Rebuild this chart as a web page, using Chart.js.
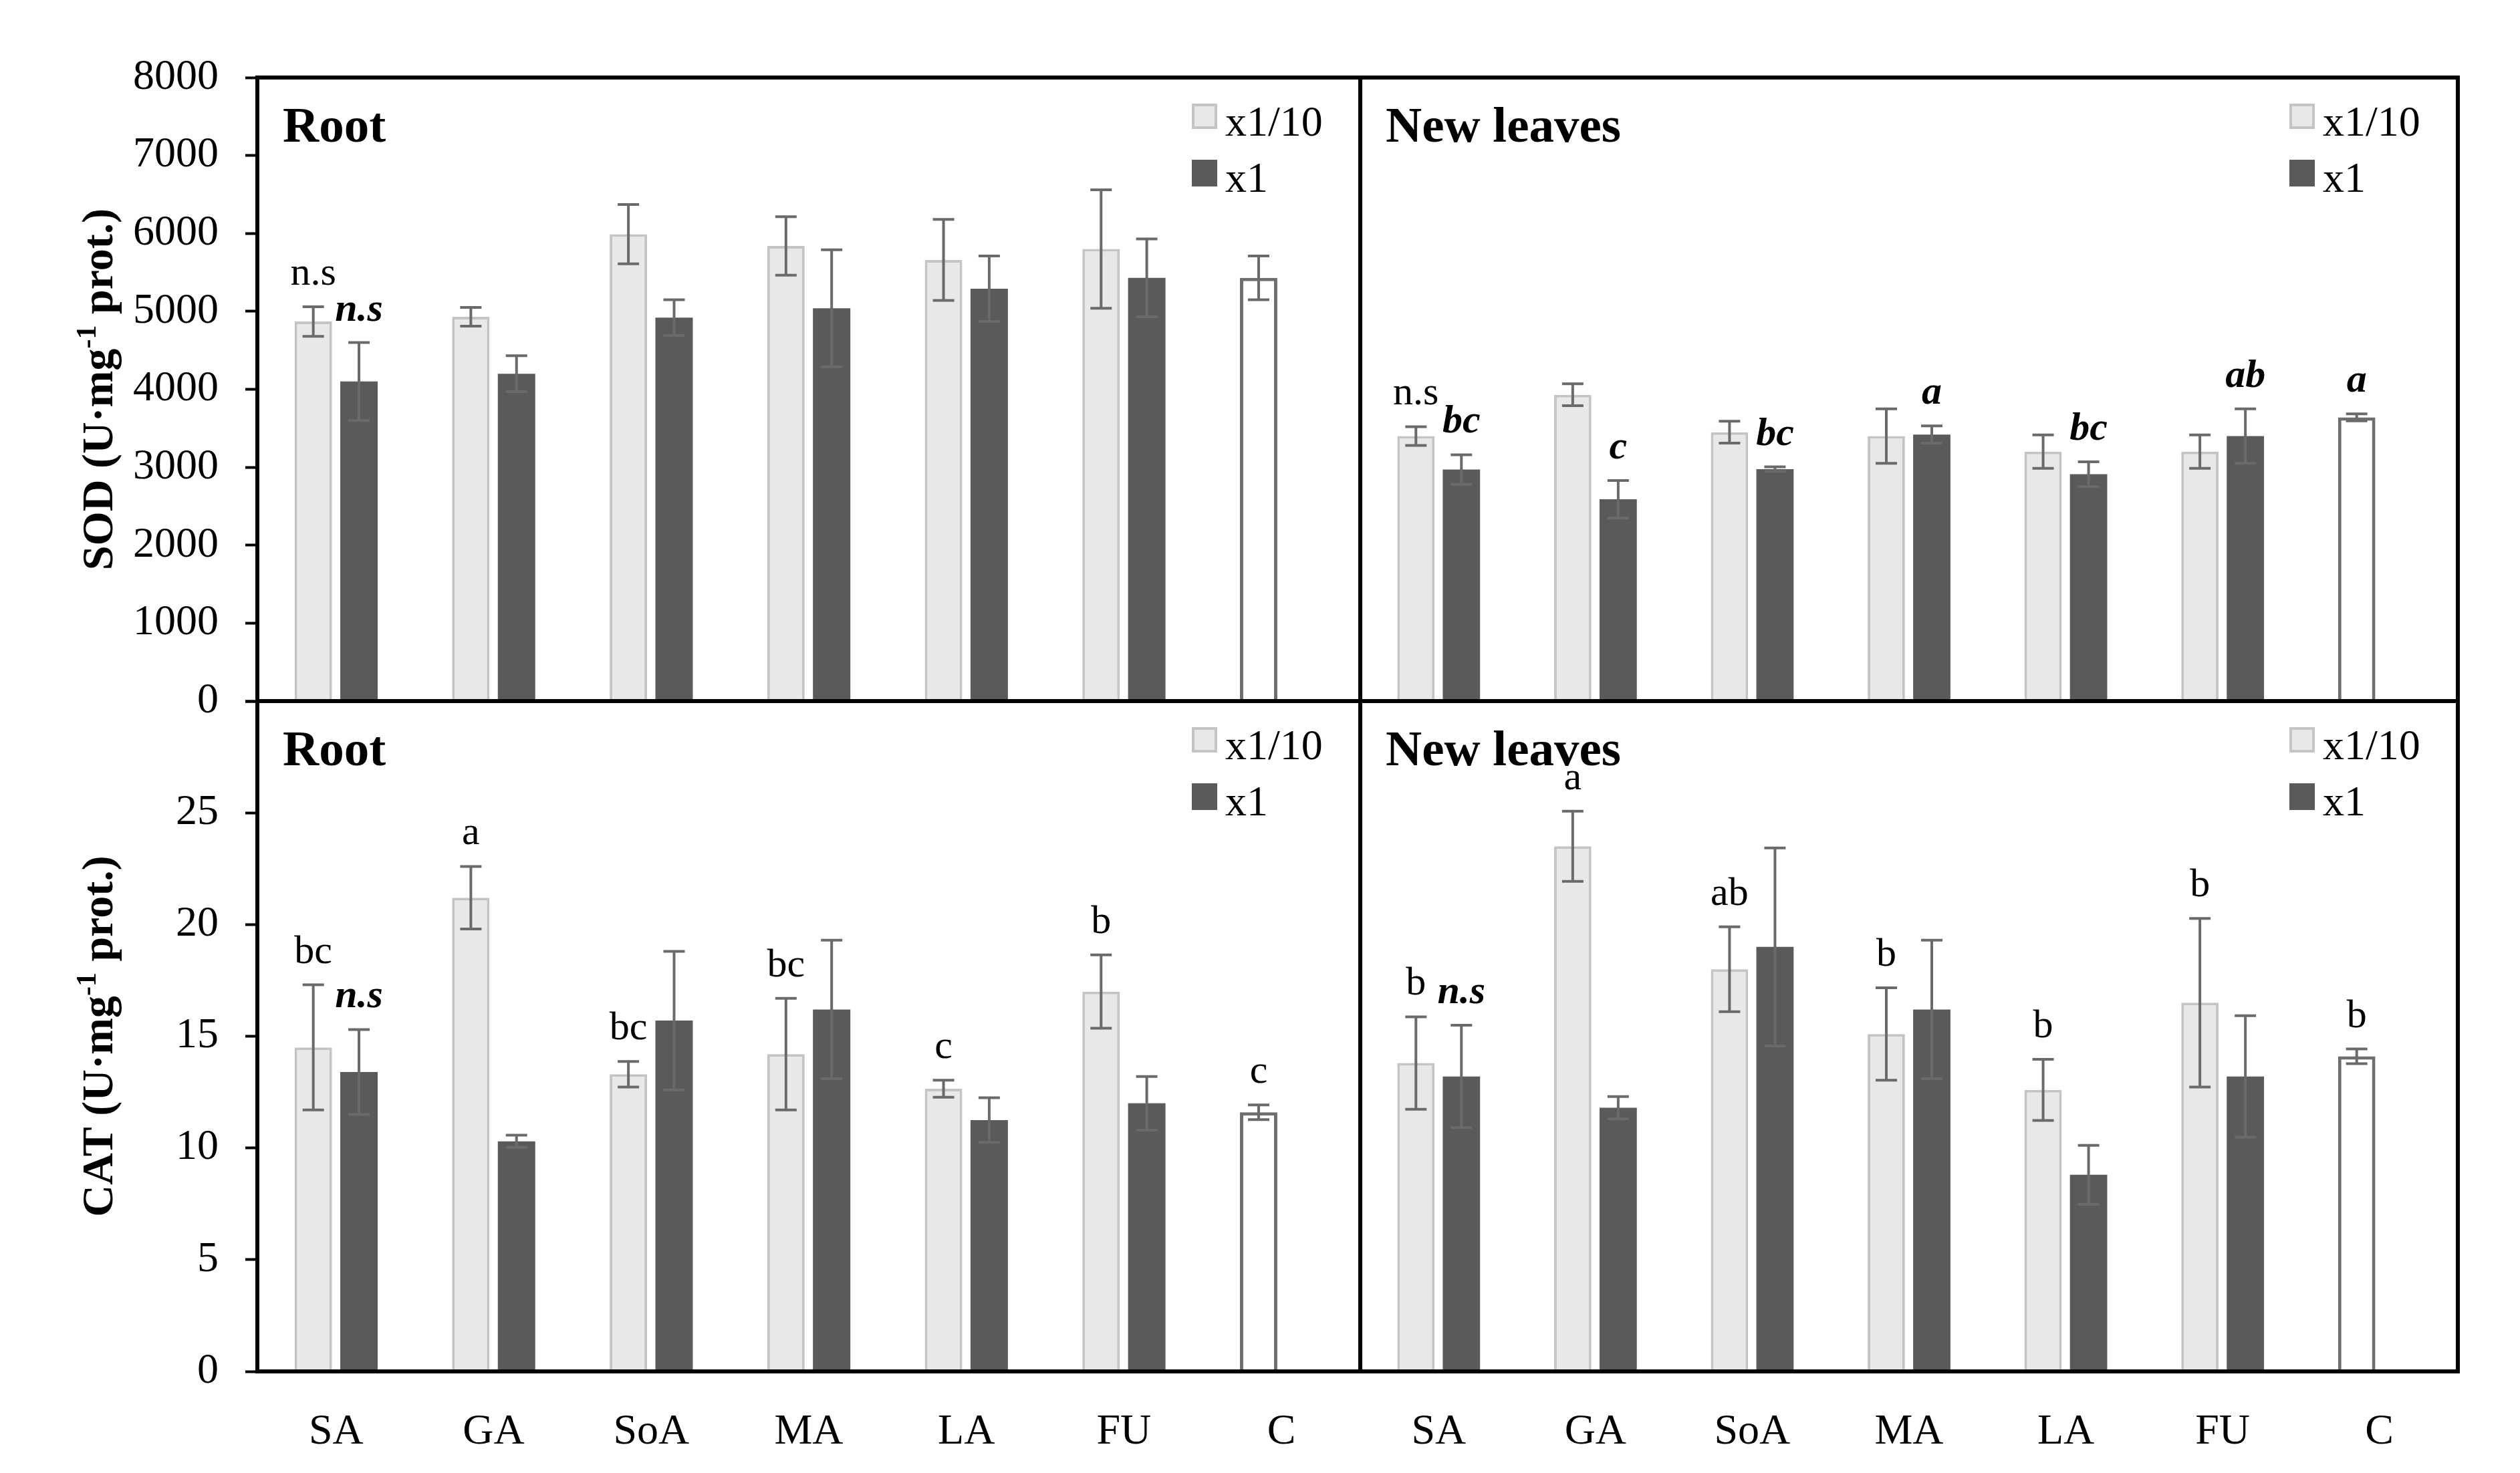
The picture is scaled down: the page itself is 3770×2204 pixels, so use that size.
<!DOCTYPE html>
<html>
<head>
<meta charset="utf-8">
<script src="https://cdn.jsdelivr.net/npm/chart.js@4.4.1/dist/chart.umd.min.js"></script>
<style>
  html, body { margin: 0; padding: 0; background: #fff; }
  #wrap { position: relative; width: 3770px; height: 2204px; }
  #wrap canvas { position: absolute; left: 0; top: 0; }
</style>
</head>
<body>
<div id="wrap">
  <canvas id="sodRoot" width="3770" height="2204"></canvas>
  <canvas id="sodLeaf" width="3770" height="2204"></canvas>
  <canvas id="catRoot" width="3770" height="2204"></canvas>
  <canvas id="catLeaf" width="3770" height="2204"></canvas>
</div>
<script>
const groups = ["SA", "GA", "SoA", "MA", "LA", "FU", "C"];

// SOD - root
const sodRootLow = [4870, 4930, 5990, 5840, 5660, 5800, null];
const sodRootLowErr = [190, 120, 380, 375, 520, 760, null];
const sodRootHigh = [4100, 4200, 4920, 5040, 5290, 5430, null];
const sodRootHighErr = [500, 230, 230, 750, 420, 500, null];
const sodRootCtrl = [null, null, null, null, null, null, 5430];
const sodRootCtrlErr = [null, null, null, null, null, null, 280];
const sodRootLowSig = ["n.s", "", "", "", "", "", ""];
const sodRootHighSig = ["n.s", "", "", "", "", "", ""];

// SOD - new leaves
const sodLeafLow = [3400, 3930, 3450, 3400, 3200, 3200, null];
const sodLeafLowErr = [120, 140, 140, 350, 215, 215, null];
const sodLeafHigh = [2970, 2590, 2975, 3420, 2910, 3400, null];
const sodLeafHighErr = [190, 240, 30, 110, 160, 350, null];
const sodLeafCtrl = [null, null, null, null, null, null, 3640];
const sodLeafCtrlErr = [null, null, null, null, null, null, 45];
const sodLeafLowSig = ["n.s", "", "", "", "", "", ""];
const sodLeafHighSig = ["bc", "c", "bc", "a", "bc", "ab", "a"];

// CAT - root
const catRootLow = [14.5, 21.2, 13.3, 14.2, 12.65, 17.0, null];
const catRootLowErr = [2.8, 1.4, 0.57, 2.5, 0.38, 1.64, null];
const catRootHigh = [13.4, 10.3, 15.7, 16.2, 11.25, 12.0, null];
const catRootHighErr = [1.9, 0.27, 3.1, 3.1, 1.0, 1.2, null];
const catRootCtrl = [null, null, null, null, null, null, 11.6];
const catRootCtrlErr = [null, null, null, null, null, null, 0.33];
const catRootLowSig = ["bc", "a", "bc", "bc", "c", "b", "c"];
const catRootHighSig = ["n.s", "", "", "", "", "", ""];

// CAT - new leaves
const catLeafLow = [13.8, 23.5, 18.0, 15.1, 12.6, 16.5, null];
const catLeafLowErr = [2.07, 1.57, 1.9, 2.07, 1.37, 3.77, null];
const catLeafHigh = [13.2, 11.8, 19.0, 16.2, 8.8, 13.2, null];
const catLeafHighErr = [2.29, 0.5, 4.43, 3.1, 1.32, 2.72, null];
const catLeafCtrl = [null, null, null, null, null, null, 14.1];
const catLeafCtrlErr = [null, null, null, null, null, null, 0.33];
const catLeafLowSig = ["b", "a", "ab", "b", "b", "b", "b"];
const catLeafHighSig = ["n.s", "", "", "", "", "", ""];

const FONT = '"Liberation Serif", "Times New Roman", serif';
const LIGHT = "#e8e8e8";
const LIGHT_EDGE = "#c4c4c4";
const DARK = "#5a5a5a";
const CTRL_EDGE = "#6e6e6e";
const ERR_COLOR = "#6a6a6a";

// panel edges in page pixels
const X_LEFT = 385, X_MID = 2035, X_RIGHT = 3677;
const Y_TOP = 116, Y_MID = 1049, Y_BOT = 2052;
const W = 3770, H = 2204;

const panelPlugin = {
  id: "panel",
  afterDatasetsDraw(chart) {
    const ctx = chart.ctx;
    const y = chart.scales.y;
    ctx.save();
    ctx.strokeStyle = ERR_COLOR;
    ctx.lineWidth = 4;
    chart.data.datasets.forEach((ds, d) => {
      const bars = chart.getDatasetMeta(d).data;
      ds.data.forEach((v, i) => {
        if (v == null || ds.err[i] == null) return;
        const x = bars[i].x;
        const top = y.getPixelForValue(v + ds.err[i]);
        const bot = y.getPixelForValue(v - ds.err[i]);
        ctx.beginPath();
        ctx.moveTo(x, top); ctx.lineTo(x, bot);
        ctx.moveTo(x - 16, top); ctx.lineTo(x + 16, top);
        ctx.moveTo(x - 16, bot); ctx.lineTo(x + 16, bot);
        ctx.stroke();
      });
    });
    ctx.restore();
  },
  afterDraw(chart, args, opts) {
    const ctx = chart.ctx;
    const ca = chart.chartArea;
    const y = chart.scales.y;
    const sets = chart.data.datasets;
    ctx.save();

    // frame
    ctx.strokeStyle = "#000";
    ctx.lineWidth = 6;
    ctx.strokeRect(ca.left, ca.top, ca.right - ca.left, ca.bottom - ca.top);

    // significance letters (index 6 points at the control bar)
    ctx.fillStyle = "#000";
    ctx.textAlign = "center";
    ctx.textBaseline = "alphabetic";
    [0, 1].forEach(d => {
      ctx.font = (d === 0 ? "" : "italic bold ") + "60px " + FONT;
      sets[d].sig.forEach((s, i) => {
        if (!s) return;
        let k = d;
        if (sets[d].data[i] == null) k = 2;
        const bar = chart.getDatasetMeta(k).data[i];
        const v = sets[k].data[i] + (sets[k].err[i] || 0);
        ctx.fillText(s, bar.x, y.getPixelForValue(v) - 33);
      });
    });

    // panel title
    ctx.textAlign = "left";
    ctx.font = "bold 75px " + FONT;
    ctx.fillText(opts.title, ca.left + 38, ca.top + 96);

    // legend
    const lx = ca.right - 252;
    ctx.font = "64px " + FONT;
    ctx.fillStyle = LIGHT;
    ctx.fillRect(lx, ca.top + 39, 38, 38);
    ctx.strokeStyle = LIGHT_EDGE;
    ctx.lineWidth = 4;
    ctx.strokeRect(lx + 2, ca.top + 41, 34, 34);
    ctx.fillStyle = DARK;
    ctx.fillRect(lx, ca.top + 123, 38, 40);
    ctx.fillStyle = "#000";
    ctx.fillText(sets[0].label, lx + 50, ca.top + 87);
    ctx.fillText(sets[1].label, lx + 50, ca.top + 171);

    // y axis title
    if (opts.yTitle) {
      const main = "bold 66px " + FONT, sup = "bold 42px " + FONT;
      const parts = [[opts.yTitle + " (U\u00b7mg", main, 0], ["-1", sup, -25], [" prot.)", main, 0]];
      let total = 0;
      parts.forEach(p => { ctx.font = p[1]; total += ctx.measureText(p[0]).width; });
      ctx.translate(168, (ca.top + ca.bottom) / 2);
      ctx.rotate(-Math.PI / 2);
      let px = -total / 2;
      parts.forEach(p => {
        ctx.font = p[1];
        ctx.fillText(p[0], px, p[2]);
        px += ctx.measureText(p[0]).width;
      });
    }
    ctx.restore();
  }
};

function makeChart(id, p) {
  const left = p.col === 0;
  const bottom = p.row === 1;
  return new Chart(document.getElementById(id), {
    type: "bar",
    data: {
      labels: groups,
      datasets: [
        { label: "x1/10", data: p.low, err: p.lowErr, sig: p.lowSig, stack: "a",
          backgroundColor: LIGHT, borderColor: LIGHT_EDGE, borderWidth: 4 },
        { label: "x1", data: p.high, err: p.highErr, sig: p.highSig, stack: "b",
          backgroundColor: DARK, borderColor: DARK, borderWidth: 0 },
        { label: "C", data: p.ctrl, err: p.ctrlErr, stack: "a",
          backgroundColor: "#ffffff", borderColor: CTRL_EDGE, borderWidth: 5 }
      ]
    },
    options: {
      responsive: false,
      animation: false,
      devicePixelRatio: 1,
      events: [],
      layout: {
        padding: {
          left: left ? 0 : X_MID,
          right: left ? W - X_MID : W - X_RIGHT,
          top: bottom ? Y_MID : Y_TOP,
          bottom: bottom ? 0 : H - Y_MID
        }
      },
      datasets: { bar: { categoryPercentage: 0.58, barPercentage: 0.82, maxBarThickness: 56 } },
      plugins: {
        legend: { display: false },
        tooltip: { enabled: false },
        panel: { title: p.title, yTitle: left ? p.yTitle : null }
      },
      scales: {
        x: {
          stacked: true,
          display: bottom,
          grid: { display: false },
          border: { display: false },
          ticks: { font: { family: FONT, size: 64 }, color: "#000", padding: 45 },
          afterFit: s => { s.height = bottom ? H - Y_BOT : 0; }
        },
        y: {
          stacked: false,
          display: left,
          min: 0,
          max: p.max,
          grid: { drawOnChartArea: false, tickLength: 18, tickWidth: 4, tickColor: "#000" },
          border: { display: false },
          ticks: {
            stepSize: p.step,
            padding: 40,
            font: { family: FONT, size: 64 },
            color: "#000",
            callback: v => (bottom && v === p.max) ? "" : String(v)
          },
          afterFit: s => { s.width = left ? X_LEFT : 0; }
        }
      }
    },
    plugins: [panelPlugin]
  });
}

makeChart("sodRoot", { row: 0, col: 0, title: "Root", yTitle: "SOD", max: 8000, step: 1000,
  low: sodRootLow, lowErr: sodRootLowErr, lowSig: sodRootLowSig,
  high: sodRootHigh, highErr: sodRootHighErr, highSig: sodRootHighSig,
  ctrl: sodRootCtrl, ctrlErr: sodRootCtrlErr });
makeChart("sodLeaf", { row: 0, col: 1, title: "New leaves", max: 8000, step: 1000,
  low: sodLeafLow, lowErr: sodLeafLowErr, lowSig: sodLeafLowSig,
  high: sodLeafHigh, highErr: sodLeafHighErr, highSig: sodLeafHighSig,
  ctrl: sodLeafCtrl, ctrlErr: sodLeafCtrlErr });
makeChart("catRoot", { row: 1, col: 0, title: "Root", yTitle: "CAT", max: 30, step: 5,
  low: catRootLow, lowErr: catRootLowErr, lowSig: catRootLowSig,
  high: catRootHigh, highErr: catRootHighErr, highSig: catRootHighSig,
  ctrl: catRootCtrl, ctrlErr: catRootCtrlErr });
makeChart("catLeaf", { row: 1, col: 1, title: "New leaves", max: 30, step: 5,
  low: catLeafLow, lowErr: catLeafLowErr, lowSig: catLeafLowSig,
  high: catLeafHigh, highErr: catLeafHighErr, highSig: catLeafHighSig,
  ctrl: catLeafCtrl, ctrlErr: catLeafCtrlErr });
</script>
</body>
</html>
